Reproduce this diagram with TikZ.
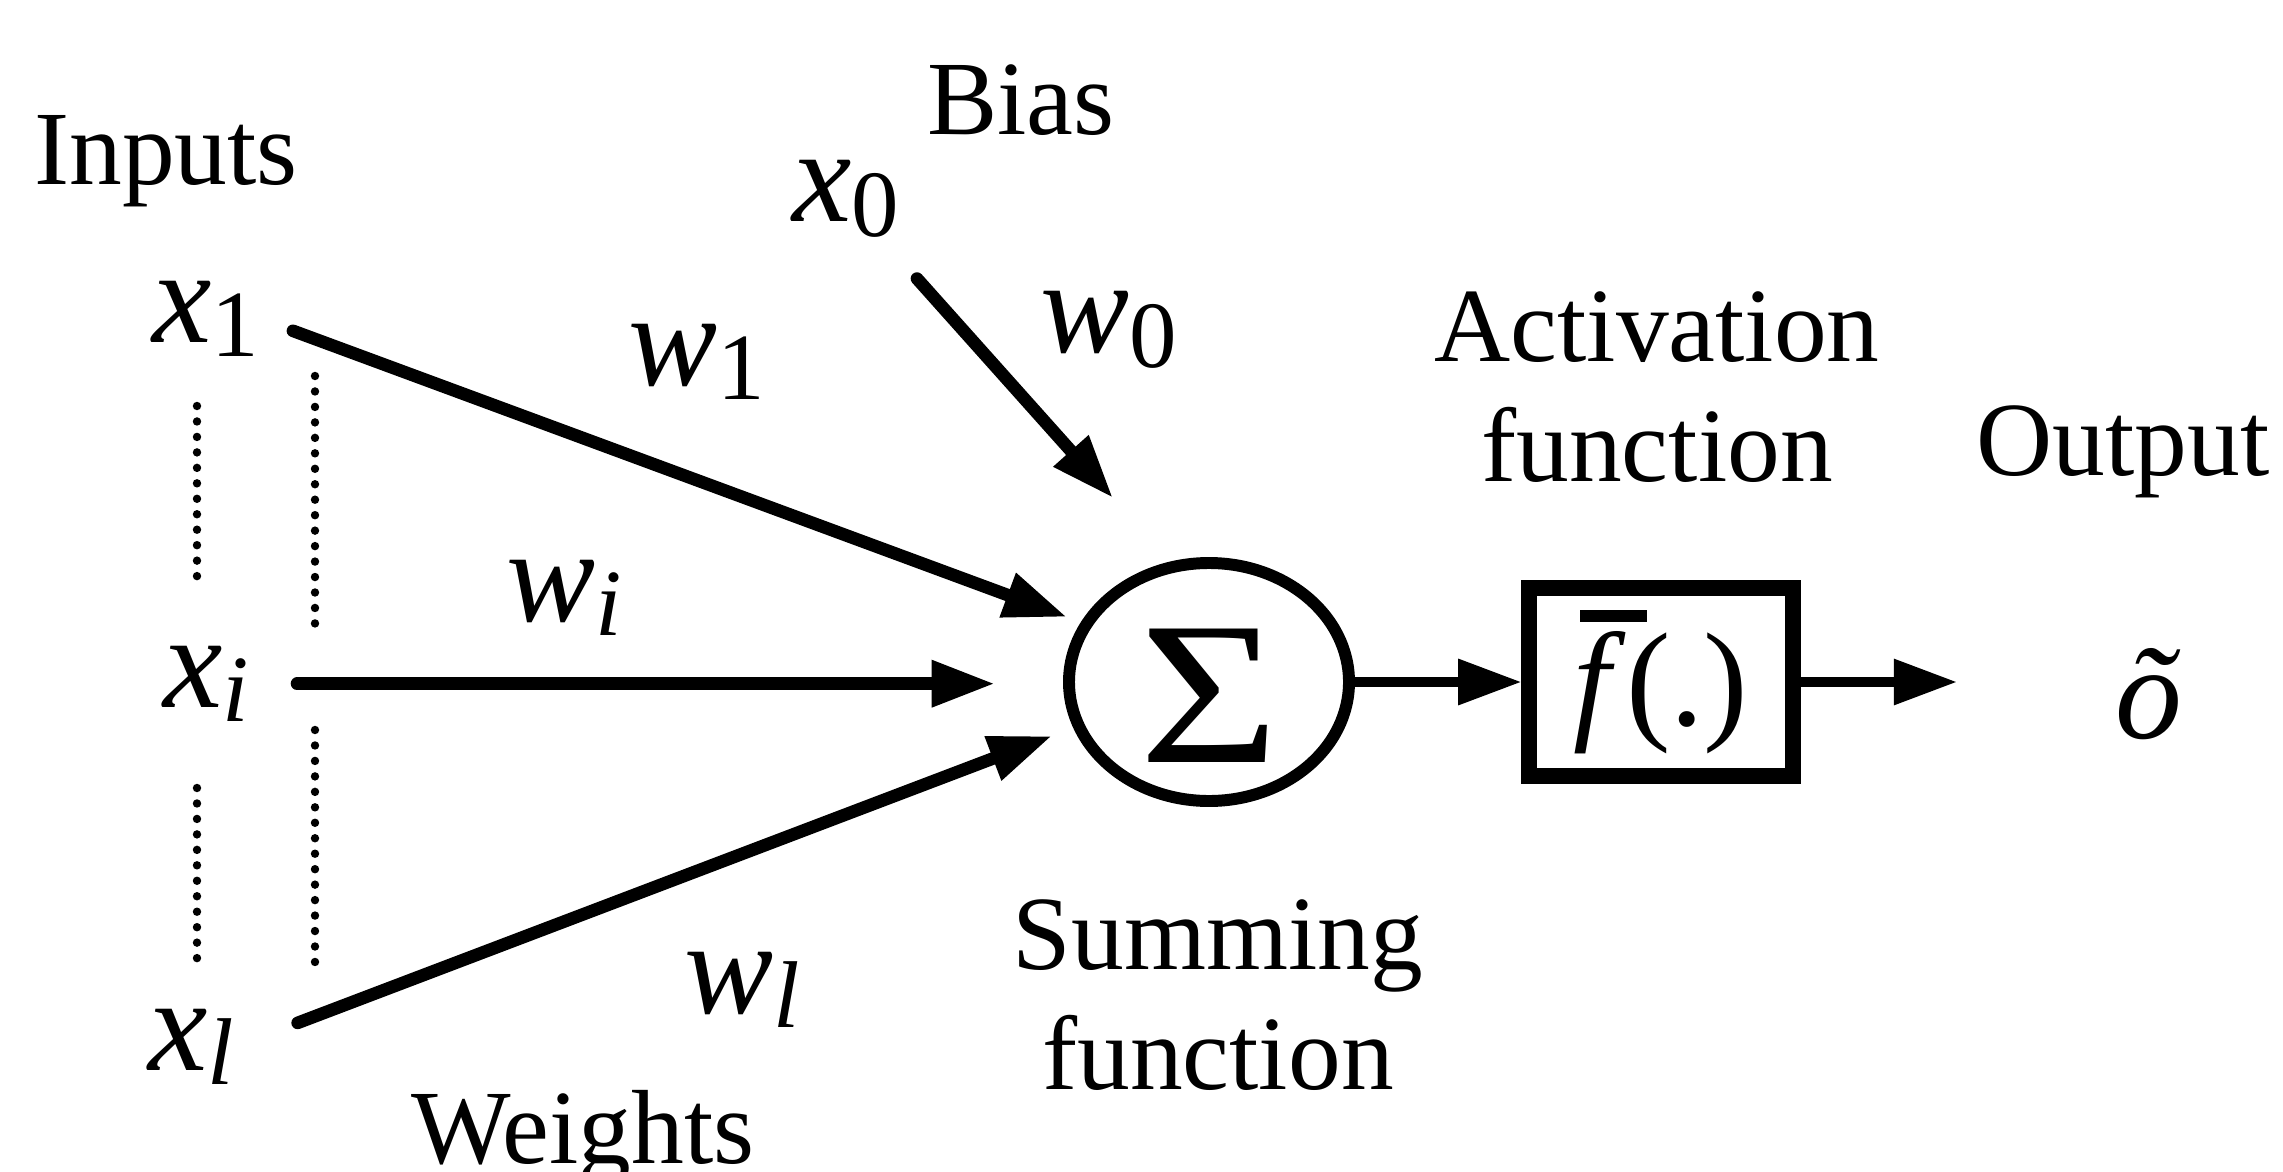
\documentclass[tikz,border=0pt]{standalone}
\usepackage{fontspec}
\usepackage{graphicx}
\setmainfont{Liberation Serif}
\usetikzlibrary{arrows.meta,positioning,shapes.geometric}
\newcommand{\sub}[1]{\raisebox{-0.11em}{\fontsize{27}{27}\selectfont #1}}
\newcommand{\fbar}{\makebox[0pt][l]{\hspace{0.05em}\raisebox{0.78em}{\rule{0.5em}{0.09em}}}\textit{f}}
\tikzset{
  caption/.style={inner sep=0pt,align=center,font=\fontsize{30}{34}\selectfont},
  var/.style={inner sep=0pt,anchor=base west,font=\fontsize{38}{40}\selectfont\itshape},
  sumnode/.style={ellipse,draw,line width=3.4pt,minimum width=2.8cm,minimum height=2.38cm,inner sep=0pt,font=\fontsize{58}{58}\selectfont},
  actbox/.style={rectangle,draw,line width=4.3pt,minimum width=2.64cm,minimum height=1.88cm,inner sep=0pt,font=\fontsize{38}{40}\selectfont},
  arrow/.style={-{Triangle[length=18pt,width=12.5pt]},line width=3.6pt,line cap=round},
  dots/.style={line width=2.4pt,line cap=round,dash pattern=on 0pt off 4.4pt}
}

\begin{document}
\begin{tikzpicture}
  \useasboundingbox (0,0) rectangle (22.83,11.71);
  % captions
  \node[caption,anchor=base] (inputs) at (1.66,9.86) {Inputs};
  \node[caption,anchor=base] (bias) at (10.21,10.36) {Bias};
  \node[caption] (actlabel) at (16.57,7.84) {Activation\\function};
  \node[caption,anchor=base] (output) at (21.23,6.96) {Output};
  \node[caption] (sumlabel) at (12.18,1.76) {Summing\\function};
  \node[caption,anchor=base] (weights) at (5.83,0.08) {Weights};
  % inputs and weights
  \node[var] (x0) at (7.92,9.49) {x\sub{\upshape 0}};
  \node[var] (x1) at (1.52,8.29) {x\sub{\upshape 1}};
  \node[var] (xi) at (1.63,4.64) {x\sub{i}};
  \node[var] (xl) at (1.48,1.01) {x\sub{l}};
  \node[var] (w0) at (10.40,8.18) {w\sub{\upshape 0}};
  \node[var] (w1) at (6.28,7.86) {w\sub{\upshape 1}};
  \node[var] (wi) at (5.06,5.50) {w\sub{i}};
  \node[var] (wl) at (6.84,1.58) {w\sub{l}};
  % neuron
  \node[sumnode] (sum) at (12.09,4.89) {\raisebox{0pt}[\dimexpr\height+8pt][\depth]{\scalebox{1.18}[1]{Σ}}\hspace{10pt}};
  \node[actbox] (act) at (16.61,4.89) {\fbar(.)};
  \node[var] (out) at (21.15,4.33) {õ};
  % arrow tips
  \coordinate (in0) at (11.13,6.73);
  \coordinate (in1) at (10.67,5.54);
  \coordinate (ini) at (9.95,4.93);
  \coordinate (inl) at (10.52,4.35);
  \draw[arrow,shorten <=0.54cm] (x0) -- (in0);
  \draw[arrow,shorten <=0.35cm] (x1.east) -- (in1);
  \draw[arrow,shorten <=0.47cm] (xi.east) -- (xi.east -| ini);
  \draw[arrow,shorten <=0.67cm] (xl.east) -- (inl);
  \draw[arrow,line width=2.8pt] (sum) -- (act);
  \draw[arrow,line width=2.8pt,shorten >=1.58cm] (act.east) -- (act.east -| out.west);
  % dotted guides
  \draw[dots] (1.97,7.65) -- (1.97,5.83) (1.97,3.83) -- (1.97,2.03);
  \draw[dots] (3.15,7.95) -- (3.15,5.46) (3.15,4.41) -- (3.15,1.96);
\end{tikzpicture}
\end{document}
